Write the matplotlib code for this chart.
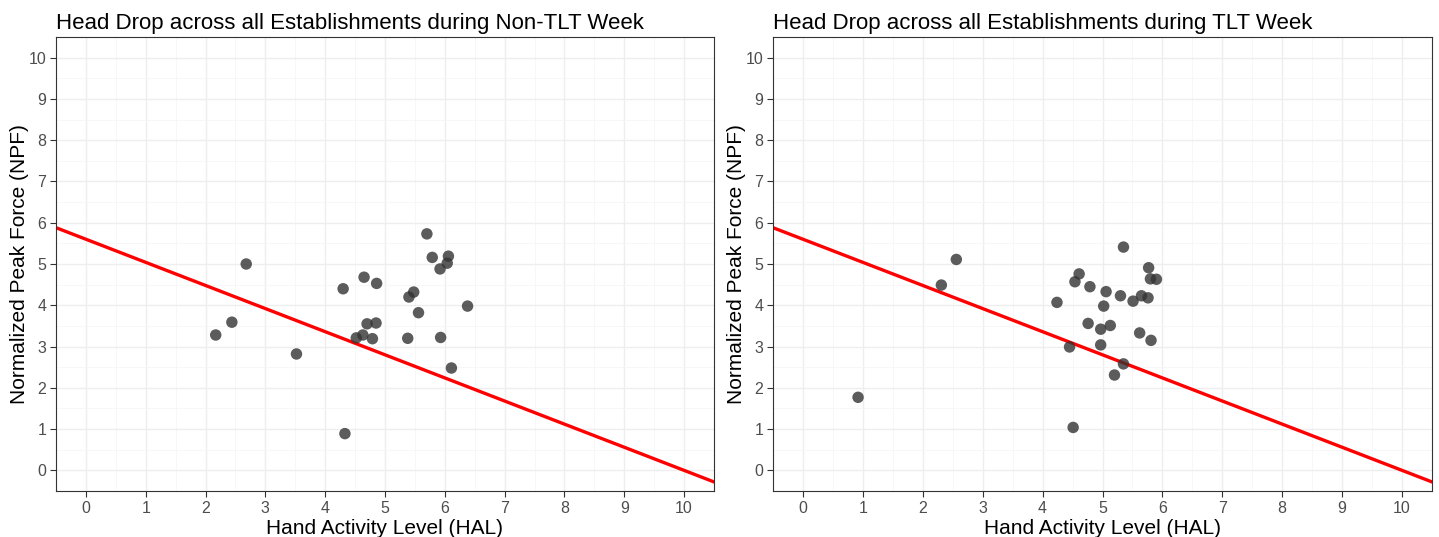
import matplotlib
matplotlib.use("Agg")
import matplotlib.pyplot as plt
import numpy as np

# ---- data ----
titles = ["Head Drop across all Establishments during Non-TLT Week",
          "Head Drop across all Establishments during TLT Week"]

hal_non_tlt = [2.17, 2.44, 2.68, 3.52, 4.30, 4.33, 4.65, 4.86, 4.70, 4.85, 4.52, 4.63, 4.79,
               5.70, 5.79, 6.06, 6.04, 5.92, 5.40, 5.48, 5.56, 5.38, 5.93, 6.11, 6.38]
npf_non_tlt = [3.28, 3.59, 5.00, 2.82, 4.40, 0.89, 4.68, 4.53, 3.55, 3.57, 3.21, 3.28, 3.19,
               5.73, 5.16, 5.19, 5.02, 4.88, 4.20, 4.32, 3.82, 3.20, 3.22, 2.48, 3.98]

hal_tlt = [2.56, 2.31, 5.35, 5.77, 5.80, 5.90, 4.61, 4.54, 4.79, 5.06, 5.30, 5.51, 5.65, 5.76,
           4.24, 5.02, 4.76, 4.97, 5.13, 5.62, 5.81, 4.45, 4.97, 5.35, 5.20, 4.51, 0.92]
npf_tlt = [5.11, 4.49, 5.41, 4.91, 4.64, 4.63, 4.76, 4.57, 4.45, 4.33, 4.23, 4.10, 4.23, 4.18,
           4.07, 3.98, 3.56, 3.42, 3.51, 3.33, 3.15, 2.99, 3.04, 2.58, 2.31, 1.04, 1.77]

# TLV line: NPF = 5.6 - 0.56 * HAL
tlv_intercept = 5.6
tlv_slope = -0.56

x_ticks = list(range(0, 11))
y_ticks = list(range(0, 11))
x_label = "Hand Activity Level (HAL)"
y_label = "Normalized Peak Force (NPF)"

plt.rcParams['font.family'] = ['Liberation Sans', 'DejaVu Sans']

fig = plt.figure(figsize=(14.39, 5.37), dpi=100)
W, H = 1439, 537
boxes = [(56, 37, 714, 491), (773, 37, 1432, 491)]
datasets = [(hal_non_tlt, npf_non_tlt), (hal_tlt, npf_tlt)]

for (l, t, r, b), (xs, ys), title in zip(boxes, datasets, titles):
    ax = fig.add_axes([l / W, 1 - b / H, (r - l) / W, (b - t) / H])
    ax.set_xticks(x_ticks)
    ax.set_yticks(y_ticks)
    ax.set_xticks(np.arange(-0.5, 10.6, 1.0), minor=True)
    ax.set_yticks(np.arange(-0.5, 10.6, 1.0), minor=True)
    ax.grid(which='major', color='#eeeeee', linewidth=1.0)
    ax.grid(which='minor', color='#f6f6f6', linewidth=0.6)
    ax.set_axisbelow(True)
    ax.tick_params(which='minor', length=0)
    ax.tick_params(which='major', length=4, width=0.8, color='#333333',
                   labelsize=11.5, labelcolor='#4d4d4d', pad=3)
    for s in ax.spines.values():
        s.set_color('#333333')
        s.set_linewidth(0.8)
    xl = np.array([-0.5, 10.5])
    ax.plot(xl, tlv_intercept + tlv_slope * xl, color='#ff0000', linewidth=2.4, zorder=2)
    ax.scatter(xs, ys, s=68, color='#333333', alpha=0.8, edgecolors='none', zorder=3)
    ax.set_xlim(-0.5, 10.5)
    ax.set_ylim(-0.5, 10.5)
    ax.set_xlabel(x_label, fontsize=15, color='black', labelpad=2)
    ax.set_ylabel(y_label, fontsize=15, color='black', labelpad=0)
    ax.set_title(title, fontsize=16, loc='left', pad=6)

fig.savefig("out.png", dpi=100, facecolor='white')
